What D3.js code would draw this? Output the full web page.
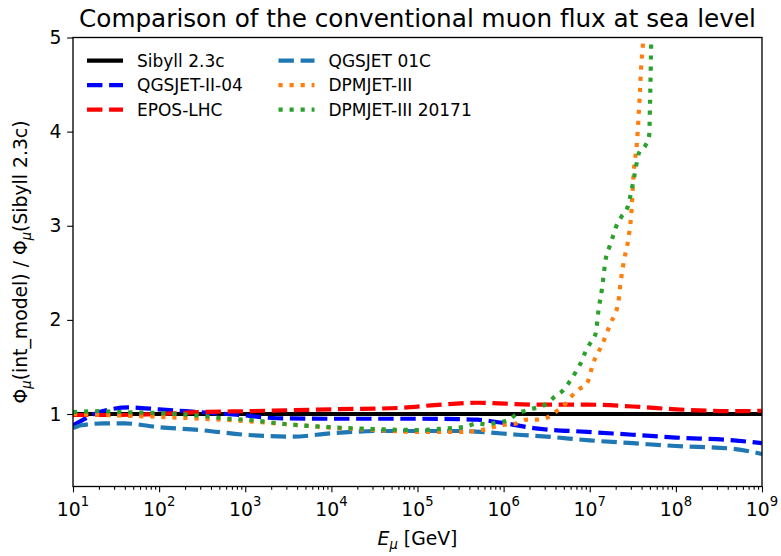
<!DOCTYPE html>
<html>
<head>
<meta charset="utf-8">
<script src="https://cdn.jsdelivr.net/npm/d3@7"></script>
<style>
  body { margin: 0; background: #fff; }
  svg { display: block; font-family: "DejaVu Sans", sans-serif; }
</style>
</head>
<body>
<script>
// size of the figure
const width = 781;
const height = 556;

// axes box
const padding = {top: 37.5, right: 19, bottom: 69.5, left: 73};

// log10(E / GeV) and flux ratio for each model
const sibyllLogE = [1, 9];
const sibyllRatio = [1, 1];

const qgsjet2LogE = [1, 1.08, 1.3, 1.66, 2, 2.47, 2.94, 3.37, 4, 5, 5.5, 5.7, 5.96, 6.35, 6.97, 7.5, 8, 8.67, 9];
const qgsjet2Ratio = [0.88, 0.92, 1.02, 1.07, 1.05, 1.02, 0.99, 0.955, 0.95, 0.95, 0.945, 0.94, 0.91, 0.85, 0.81, 0.78, 0.75, 0.72, 0.69];

const eposLogE = [1, 1.5, 2, 2.47, 3, 4, 4.8, 5.2, 5.69, 6.35, 6.97, 7.5, 8, 8.67, 9];
const eposRatio = [0.99, 0.99, 1.0, 1.02, 1.03, 1.05, 1.065, 1.095, 1.12, 1.1, 1.1, 1.08, 1.05, 1.03, 1.035];

const qgsjet01LogE = [1, 1.1, 1.35, 1.6, 2, 2.47, 3, 3.55, 4, 4.57, 5, 5.5, 5.73, 6.16, 6.5, 7, 7.5, 8, 8.67, 9];
const qgsjet01Ratio = [0.85, 0.88, 0.9, 0.9, 0.86, 0.83, 0.78, 0.76, 0.795, 0.82, 0.82, 0.82, 0.81, 0.78, 0.76, 0.72, 0.69, 0.66, 0.63, 0.575];

const dpmjetLogE = [1, 1.5, 2, 2.5, 3, 3.5, 4, 4.5, 5, 5.5, 5.75, 5.9, 6.05, 6.15, 6.27, 6.38, 6.5, 6.6, 6.71, 6.78, 6.87, 6.97, 7.04, 7.15, 7.24, 7.33, 7.36, 7.40, 7.45, 7.48, 7.51, 7.55, 7.58, 7.6, 7.62, 7.65];
const dpmjetRatio = [1.0, 0.985, 0.97, 0.95, 0.925, 0.89, 0.855, 0.83, 0.81, 0.81, 0.83, 0.865, 0.89, 0.9, 0.94, 0.94, 0.96, 1.02, 1.1, 1.18, 1.26, 1.33, 1.54, 1.75, 1.96, 2.18, 2.41, 2.64, 2.87, 3.1, 3.56, 3.91, 4.38, 4.73, 4.96, 5.4];

const dpmjet17LogE = [1, 1.3, 1.6, 2, 2.5, 2.8, 3, 3.5, 4, 4.5, 5, 5.3, 5.55, 5.7, 5.8, 5.92, 6.05, 6.15, 6.27, 6.5, 6.6, 6.7, 6.77, 6.84, 6.9, 6.95, 7.01, 7.07, 7.1, 7.14, 7.19, 7.23, 7.27, 7.31, 7.37, 7.44, 7.47, 7.52, 7.57, 7.65, 7.69, 7.70, 7.71, 7.72];
const dpmjet17Ratio = [1.02, 1.03, 1.02, 1.01, 0.98, 0.95, 0.94, 0.89, 0.86, 0.84, 0.83, 0.845, 0.865, 0.9, 0.89, 0.91, 0.93, 1.0, 1.04, 1.11, 1.19, 1.26, 1.35, 1.45, 1.55, 1.66, 1.76, 1.86, 2.09, 2.32, 2.67, 2.78, 2.89, 3.0, 3.1, 3.2, 3.31, 3.54, 3.77, 3.86, 3.96, 4.3, 4.77, 5.3];

const modelNames = ['Sibyll 2.3c', 'QGSJET-II-04', 'EPOS-LHC', 'QGSJET 01C', 'DPMJET-III', 'DPMJET-III 20171'];

// tick labels
const xTickExponents = [1, 2, 3, 4, 5, 6, 7, 8, 9];
const yTickValues = [1, 2, 3, 4, 5];

const title = 'Comparison of the conventional muon flux at sea level';

// line styles (lw 2.5pt at 120 dpi)
const lw = 4.17;
const dashed = [15.42, 6.67].join(',');
const dotted = [4.17, 6.875].join(',');

// font sizes
const fsTitle = '24.7px';
const fsLabel = '18.8px';
const fsSub = '13.2px';
const fsLegend = '17px';

const series = [
    {name: modelNames[0], logE: sibyllLogE, ratio: sibyllRatio, color: '#000000', dash: null},
    {name: modelNames[1], logE: qgsjet2LogE, ratio: qgsjet2Ratio, color: '#0000ff', dash: dashed},
    {name: modelNames[2], logE: eposLogE, ratio: eposRatio, color: '#ff0000', dash: dashed},
    {name: modelNames[3], logE: qgsjet01LogE, ratio: qgsjet01Ratio, color: '#1f77b4', dash: dashed},
    {name: modelNames[4], logE: dpmjetLogE, ratio: dpmjetRatio, color: '#ff7f0e', dash: dotted},
    {name: modelNames[5], logE: dpmjet17LogE, ratio: dpmjet17Ratio, color: '#2ca02c', dash: dotted}
];

const x = d3.scaleLog()
    .domain([1e1, 1e9])
    .range([padding.left, width - padding.right]);
const y = d3.scaleLinear()
    .domain([0.23, 5])
    .range([height - padding.bottom, padding.top]);

const svg = d3.select('body').append('svg').attr('width', width).attr('height', height);

svg.append('defs').append('clipPath').attr('id', 'plotclip')
    .append('rect')
    .attr('x', padding.left)
    .attr('y', padding.top)
    .attr('width', width - padding.left - padding.right)
    .attr('height', height - padding.top - padding.bottom);

const line = d3.line()
    .x(function(d){ return x(Math.pow(10, d[0])); })
    .y(function(d){ return y(d[1]); })
    .curve(d3.curveMonotoneX);

svg.append('g')
    .attr('clip-path', 'url(#plotclip)')
    .selectAll('path')
    .data(series)
    .enter()
    .append('path')
    .attr('fill', 'none')
    .attr('stroke', function(d){ return d.color; })
    .attr('stroke-width', lw)
    .attr('stroke-linecap', 'butt')
    .attr('stroke-dasharray', function(d){ return d.dash; })
    .attr('d', function(d){
        return line(d.logE.map(function(v, i){ return [v, d.ratio[i]]; }));
    });

// x axis: major + minor ticks
const xMajor = xTickExponents.map(function(e){ return Math.pow(10, e); });
const xMinor = [];
xTickExponents.slice(0, -1).forEach(function(e){
    for (let k = 2; k < 10; k++) xMinor.push(k * Math.pow(10, e));
});

const xAxisG = svg.append('g')
    .attr('transform', 'translate(0,' + (height - padding.bottom) + ')');
xAxisG.append('g')
    .call(d3.axisBottom(x).tickValues(xMinor).tickSize(3.33).tickFormat(''));
xAxisG.append('g')
    .call(d3.axisBottom(x).tickValues(xMajor).tickSize(5.83).tickPadding(5.83).tickFormat(''));
xAxisG.selectAll('.domain').remove();
xAxisG.selectAll('line').attr('stroke', '#000').attr('stroke-width', 1.1);

// 10^n labels
const xLabels = svg.append('g')
    .selectAll('text')
    .data(xTickExponents)
    .enter()
    .append('text')
    .attr('x', function(d){ return x(Math.pow(10, d)); })
    .attr('y', 516)
    .attr('text-anchor', 'middle')
    .attr('font-size', fsLabel)
    .attr('fill', '#000');
xLabels.append('tspan').text('10');
xLabels.append('tspan')
    .attr('dy', -10)
    .attr('font-size', fsSub)
    .text(function(d){ return d; });

// y axis
const yAxisG = svg.append('g')
    .attr('transform', 'translate(' + padding.left + ',0)')
    .call(d3.axisLeft(y).tickValues(yTickValues).tickSize(5.83).tickPadding(5.83).tickFormat(d3.format('d')));
yAxisG.select('.domain').remove();
yAxisG.selectAll('line').attr('stroke', '#000').attr('stroke-width', 1.1);
yAxisG.selectAll('text')
    .attr('font-size', fsLabel)
    .attr('font-family', '"DejaVu Sans", sans-serif')
    .attr('fill', '#000');

// frame
svg.append('rect')
    .attr('x', padding.left)
    .attr('y', padding.top)
    .attr('width', width - padding.left - padding.right)
    .attr('height', height - padding.top - padding.bottom)
    .attr('fill', 'none')
    .attr('stroke', '#000')
    .attr('stroke-width', 1.33);

// title
svg.append('text')
    .attr('x', (padding.left + width - padding.right) / 2)
    .attr('y', 27)
    .attr('text-anchor', 'middle')
    .attr('font-size', fsTitle)
    .attr('fill', '#000')
    .text(title);

// x label: E_mu [GeV]
const xTitle = svg.append('text')
    .attr('x', (padding.left + width - padding.right) / 2)
    .attr('y', 545)
    .attr('text-anchor', 'middle')
    .attr('font-size', fsLabel)
    .attr('fill', '#000');
xTitle.append('tspan').attr('font-style', 'italic').text('E');
xTitle.append('tspan').attr('font-style', 'italic').attr('font-size', fsSub).attr('dy', 4).text('μ');
xTitle.append('tspan').attr('dy', -4).text(' [GeV]');

// y label
const yTitle = svg.append('text')
    .attr('transform', 'translate(27,' + ((padding.top + height - padding.bottom) / 2) + ') rotate(-90)')
    .attr('text-anchor', 'middle')
    .attr('font-size', fsLabel)
    .attr('fill', '#000');
yTitle.append('tspan').text('Φ');
yTitle.append('tspan').attr('font-style', 'italic').attr('font-size', fsSub).attr('dy', 4).text('μ');
yTitle.append('tspan').attr('dy', -4).text('(int_model) / Φ');
yTitle.append('tspan').attr('font-style', 'italic').attr('font-size', fsSub).attr('dy', 4).text('μ');
yTitle.append('tspan').attr('dy', -4).text('(Sibyll 2.3c)');

// legend, 2 columns, column-first
const legend = svg.append('g')
    .selectAll('g')
    .data(series)
    .enter()
    .append('g')
    .attr('transform', function(d, i){
        const col = Math.floor(i / 3);
        const row = i % 3;
        return 'translate(' + (87 + col * 191.5) + ',' + (60.7 + row * 24.5) + ')';
    });
legend.append('line')
    .attr('x1', 0)
    .attr('x2', 36)
    .attr('stroke', function(d){ return d.color; })
    .attr('stroke-width', lw)
    .attr('stroke-dasharray', function(d){ return d.dash; });
legend.append('text')
    .attr('x', 50)
    .attr('dy', '0.35em')
    .attr('font-size', fsLegend)
    .attr('fill', '#000')
    .text(function(d){ return d.name; });
</script>
</body>
</html>
